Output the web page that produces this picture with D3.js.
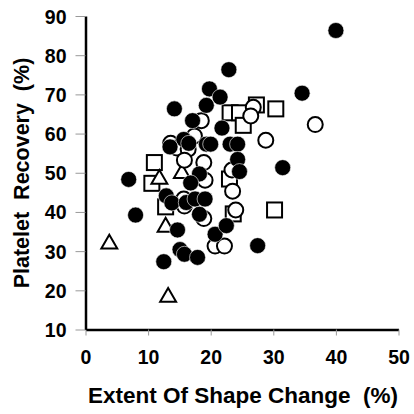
<!DOCTYPE html>
<html>
<head>
<meta charset="utf-8">
<script src="https://cdn.jsdelivr.net/npm/d3@7"></script>
<style>
  body { margin: 0; background: #fff; }
  svg text { font-family: "Liberation Sans", Arial, sans-serif; font-weight: bold; fill: #000; }
</style>
</head>
<body>
<svg id="chart" width="414" height="414"></svg>
<script>
// values: [shape change %, platelet recovery %]
const filledCircles = [
    [40.0, 86.3], [22.9, 76.3], [19.8, 71.4], [21.5, 69.3], [34.6, 70.3], [19.3, 67.2],
    [14.2, 66.3], [17.1, 63.3], [21.8, 61.4], [15.7, 58.5], [13.5, 56.6], [16.5, 57.5],
    [19.3, 57.3], [20.0, 57.3], [23.1, 57.3], [24.3, 57.3], [24.3, 53.4], [24.6, 50.3],
    [31.5, 51.3], [6.9, 48.3], [18.2, 49.7], [16.8, 47.4], [12.9, 44.1], [13.8, 42.3],
    [16.1, 42.4], [17.5, 43.3], [19.1, 43.3], [8.0, 39.2], [18.2, 39.4], [14.7, 35.4],
    [20.7, 34.3], [22.5, 36.5], [15.1, 30.4], [15.8, 29.2], [17.9, 28.4], [12.5, 27.3],
    [27.5, 31.4]
];
const openCircles = [
    [36.7, 62.3], [28.8, 58.3], [26.8, 66.7], [26.4, 64.5], [18.5, 63.3], [17.4, 59.4],
    [13.6, 57.5], [14.6, 56.3], [16.4, 56.0], [15.8, 53.2], [18.9, 52.6], [19.1, 48.1],
    [23.4, 50.7], [23.5, 45.3], [24.0, 40.5], [15.7, 43.3], [15.8, 41.5], [18.9, 38.3],
    [20.7, 31.3], [22.2, 31.3]
];
const openSquares = [
    [11.0, 52.6], [10.6, 47.3], [12.8, 41.3], [23.1, 65.3], [24.6, 65.3], [27.3, 67.3],
    [30.4, 66.3], [25.2, 62.1], [30.2, 40.5], [23.0, 48.4], [23.6, 39.5]
];
const openTriangles = [
    [3.8, 32.1], [13.2, 18.5], [12.8, 36.4], [11.8, 48.6], [15.4, 50.1]
];
const xTicks = [0, 10, 20, 30, 40, 50];
const yTicks = [10, 20, 30, 40, 50, 60, 70, 80, 90];

const svg = d3.select("#chart");
const x = d3.scaleLinear().domain([0, 50]).range([85.5, 398.5]);
const y = d3.scaleLinear().domain([10, 90]).range([329.5, 16]);

// x axis
const xAxis = svg.append("g")
    .attr("transform", `translate(0,${y(10)})`)
    .call(d3.axisBottom(x).tickValues(xTicks).tickSize(6).tickSizeOuter(0).tickPadding(15));
xAxis.select(".domain").attr("stroke-width", 2.5);
xAxis.selectAll(".tick line").attr("stroke", "#999").attr("stroke-width", 1);
xAxis.selectAll("text").attr("font-size", 19.5).attr("font-family", null);

// y axis
const yAxis = svg.append("g")
    .attr("transform", `translate(${x(0)},0)`)
    .call(d3.axisLeft(y).tickValues(yTicks).tickSize(10).tickSizeOuter(0).tickPadding(9));
yAxis.select(".domain").attr("stroke-width", 2.5);
yAxis.selectAll(".tick line").attr("stroke", "#999").attr("stroke-width", 1);
yAxis.selectAll("text").attr("font-size", 19.5).attr("font-family", null).attr("dy", "0.36em");

// titles
svg.append("text")
    .attr("x", (x(0) + x(50)) / 2 + 1)
    .attr("y", 403)
    .attr("text-anchor", "middle")
    .attr("font-size", 22.5)
    .attr("xml:space", "preserve")
    .text("Extent Of Shape Change  (%)");

svg.append("text")
    .attr("transform", "translate(28.5,173) rotate(-90)")
    .attr("text-anchor", "middle")
    .attr("font-size", 21.5)
    .attr("xml:space", "preserve")
    .text("Platelet  Recovery  (%)");

const plot = svg.append("g");

plot.selectAll(".sq").data(openSquares).join("rect")
    .attr("class", "sq")
    .attr("x", d => x(d[0]) - 7.5).attr("y", d => y(d[1]) - 7.5)
    .attr("width", 15).attr("height", 15)
    .attr("fill", "#fff").attr("stroke", "#000").attr("stroke-width", 2);

const tri = d3.symbol().type(d3.symbolTriangle).size(110);
plot.selectAll(".tri").data(openTriangles).join("path")
    .attr("class", "tri")
    .attr("d", tri)
    .attr("transform", d => `translate(${x(d[0])},${y(d[1]) + 1})`)
    .attr("fill", "#fff").attr("stroke", "#000").attr("stroke-width", 2);

plot.selectAll(".oc").data(openCircles).join("circle")
    .attr("class", "oc")
    .attr("cx", d => x(d[0])).attr("cy", d => y(d[1])).attr("r", 7.5)
    .attr("fill", "#fff").attr("stroke", "#000").attr("stroke-width", 2);

plot.selectAll(".fc").data(filledCircles).join("circle")
    .attr("class", "fc")
    .attr("cx", d => x(d[0])).attr("cy", d => y(d[1])).attr("r", 8)
    .attr("fill", "#000").attr("stroke", "#fff").attr("stroke-width", 0.6);
</script>
</body>
</html>
